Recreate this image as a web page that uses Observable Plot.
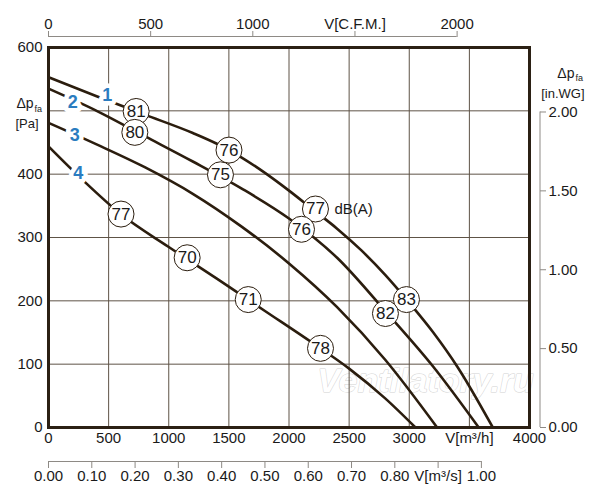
<!DOCTYPE html>
<html>
<head>
<meta charset="utf-8">
<script src="https://cdn.jsdelivr.net/npm/d3@7"></script>
<script src="https://cdn.jsdelivr.net/npm/@observablehq/plot@0.6"></script>
<style>
  html, body { margin: 0; padding: 0; background: #fff; }
  #chart svg { display: block; }
</style>
</head>
<body>
<div id="chart"></div>
<script>
// ---- data (flow V in m³/h, pressure Δp_fa in Pa) ----
const curve1 = [[0,553],[400,523],[800,494],[1200,465],[1400,448],[1600,427],[1800,402],[2000,374],[2200,344],[2400,314],[2600,280],[2800,241],[3000,197],[3200,150],[3400,96],[3695,0]];
const curve2 = [[0,535],[400,500],[800,460],[1200,420],[1600,378],[2000,330],[2400,268],[2800,184],[3200,96],[3578,0]];
const curve3 = [[0,481],[400,447],[800,411],[1200,369],[1600,318],[2000,259],[2400,190],[2800,107],[3232,0]];
const curve4 = [[0,444],[300,388],[600,337],[1000,285],[1400,235],[1800,184],[2200,133],[2500,93],[2800,46],[3052,0]];

const curveNames = ["1", "2", "3", "4"];
const curveNameX = [488, 202, 219, 247];
const curveNameY = [525, 514, 461, 401];

// sound level labels dB(A) along curves
const soundX = [729, 1501, 2220, 2977, 718, 1430, 2104, 2802, 603, 1153, 1661, 2262];
const soundY = [499, 438, 345, 202, 466, 399, 313, 180, 337, 268, 202, 125];
const soundV = ["81", "76", "77", "83", "80", "75", "76", "82", "77", "70", "71", "78"];

// axes
const xTicks = [0, 500, 1000, 1500, 2000, 2500, 3000, 3500, 4000];
const xTickLabels = ["0", "500", "1000", "1500", "2000", "2500", "3000", "V[m³/h]", "4000"];
const yTicks = [0, 100, 200, 300, 400, 500, 600];
const yTickLabels = ["0", "100", "200", "300", "400", "", "600"];
const cfmTicks = [0, 500, 1000, 1500, 2000];
const cfmTickLabels = ["0", "500", "1000", "V[C.F.M.]", "2000"];
const m3sTicks = [0, 0.1, 0.2, 0.3, 0.4, 0.5, 0.6, 0.7, 0.8, 0.9, 1.0];
const m3sTickLabels = ["0.00", "0.10", "0.20", "0.30", "0.40", "0.50", "0.60", "0.70", "0.80", "V[m³/s]", "1.00"];
const inwgTicks = [0, 0.5, 1.0, 1.5, 2.0];
const inwgTickLabels = ["0.00", "0.50", "1.00", "1.50", "2.00"];

// unit conversions
const CFM = 1.69901;     // m³/h per CFM
const M3S = 3600;        // m³/h per m³/s
const INWG = 249.089;    // Pa per in.WG

const curves = [curve1, curve2, curve3, curve4];
const lineData = curves.flatMap((c, i) => c.map(([x, y]) => ({x, y, k: curveNames[i]})));
const nameData = curveNames.map((n, i) => ({x: curveNameX[i], y: curveNameY[i], t: n}));
const soundData = soundV.map((v, i) => ({x: soundX[i], y: soundY[i], t: v}));

const ink = "#2b1d0e";
const axisGray = "#8e8a85";
const font = "Liberation Sans, Arial, Helvetica, sans-serif";
const labelOf = (ticks, labels) => d => labels[ticks.findIndex(t => Math.abs(t - d) < 1e-6)];

const plot = Plot.plot({
  width: 600,
  height: 500,
  marginLeft: 48,
  marginRight: 71,
  marginTop: 47,
  marginBottom: 73,
  style: {fontFamily: font, fontSize: "15px", color: "#1a1a1a", background: "#fff"},
  x: {domain: [0, 4000], label: null},
  y: {domain: [0, 600], label: null},
  marks: [
    // watermark
    Plot.text(["Ventilatory.ru"], {frameAnchor: "bottom-right", dx: -104, dy: -36, text: d => d,
      fontSize: 34, fontStyle: "italic", fontWeight: "bold", fill: "white", stroke: "#d2d2d2", strokeWidth: 1, textAnchor: "middle"}),
    // grid
    Plot.gridX(xTicks.slice(1, -1), {stroke: "#5e5346", strokeOpacity: 1, strokeWidth: 1}),
    Plot.gridY(yTicks.slice(1, -1), {stroke: "#5e5346", strokeOpacity: 1, strokeWidth: 1}),
    // bottom axis (m³/h)
    Plot.axisX(xTicks, {anchor: "bottom", label: null, tickSize: 0, tickPadding: 5, tickFormat: labelOf(xTicks, xTickLabels), fill: "#1a1a1a", fontSize: 15}),
    // left axis (Pa)
    Plot.axisY(yTicks, {anchor: "left", label: null, tickSize: 0, tickPadding: 6, tickFormat: labelOf(yTicks, yTickLabels), fill: "#1a1a1a", fontSize: 15}),
    Plot.text(["Δp"], {frameAnchor: "top-left", dx: -32, dy: 51, text: d => d, textAnchor: "start", fontSize: 14, fill: "#1a1a1a"}),
    Plot.text(["fa"], {frameAnchor: "top-left", dx: -14, dy: 58, text: d => d, textAnchor: "start", fontSize: 9, fill: "#1a1a1a"}),
    Plot.text(["[Pa]"], {frameAnchor: "top-left", dx: -33, dy: 71, text: d => d, textAnchor: "start", fontSize: 13, fill: "#1a1a1a"}),
    // top axis (CFM)
    Plot.ruleY([600], {x1: 0, x2: cfmTicks[cfmTicks.length - 1] * CFM, dy: -11, stroke: axisGray, strokeWidth: 1}),
    Plot.axisX(cfmTicks.map(d => d * CFM), {anchor: "top", label: null, dy: -11, tickSize: 6, tickPadding: 2, stroke: axisGray,
      tickFormat: labelOf(cfmTicks.map(d => d * CFM), cfmTickLabels), fill: "#1a1a1a", fontSize: 15}),
    // second bottom axis (m³/s)
    Plot.ruleY([0], {x1: 0, x2: m3sTicks[m3sTicks.length - 1] * M3S, dy: 34, stroke: axisGray, strokeWidth: 1}),
    Plot.axisX(m3sTicks.map(d => d * M3S), {anchor: "bottom", label: null, dy: 34, tickSize: 7, tickPadding: 2, stroke: axisGray,
      tickFormat: labelOf(m3sTicks.map(d => d * M3S), m3sTickLabels), fill: "#1a1a1a", fontSize: 15}),
    // right axis (in.WG)
    Plot.ruleX([4000], {y1: 0, y2: inwgTicks[inwgTicks.length - 1] * INWG, dx: 10.5, stroke: axisGray, strokeWidth: 1}),
    Plot.axisY(inwgTicks.map(d => d * INWG), {anchor: "right", label: null, dx: 10, tickSize: 6, tickPadding: 3, stroke: axisGray,
      tickFormat: labelOf(inwgTicks.map(d => d * INWG), inwgTickLabels), fill: "#1a1a1a", fontSize: 15}),
    Plot.text(["Δp"], {frameAnchor: "top-right", dx: 45, dy: 21, text: d => d, textAnchor: "end", fontSize: 14, fill: "#1a1a1a"}),
    Plot.text(["fa"], {frameAnchor: "top-right", dx: 46, dy: 27, text: d => d, textAnchor: "start", fontSize: 9, fill: "#1a1a1a"}),
    Plot.text(["[in.WG]"], {frameAnchor: "top-right", dx: 55, dy: 41, text: d => d, textAnchor: "end", fontSize: 13, fill: "#1a1a1a"}),
    // curves
    Plot.line(lineData, {x: "x", y: "y", z: "k", stroke: ink, strokeWidth: 2.6, curve: "monotone-x"}),
    // curve numbers with white halo
    Plot.text(nameData, {x: "x", y: "y", text: "t", fill: "#2a7cc0", stroke: "white", strokeWidth: 9, paintOrder: "stroke",
      fontSize: 18, fontWeight: "bold"}),
    // sound level markers
    Plot.dot(soundData, {x: "x", y: "y", r: 13, fill: "white", stroke: ink, strokeWidth: 1}),
    Plot.text(soundData, {x: "x", y: "y", text: "t", fill: "#1a1a1a", fontSize: 17}),
    Plot.text(["dB(A)"], {x: [soundX[2]], y: [soundY[2]], text: d => d, dx: 19, textAnchor: "start", fontSize: 15, fill: "#1a1a1a"}),
    // frame
    Plot.frame({stroke: "#2b2014", strokeWidth: 3})
  ]
});

document.getElementById("chart").appendChild(plot);
</script>
</body>
</html>
